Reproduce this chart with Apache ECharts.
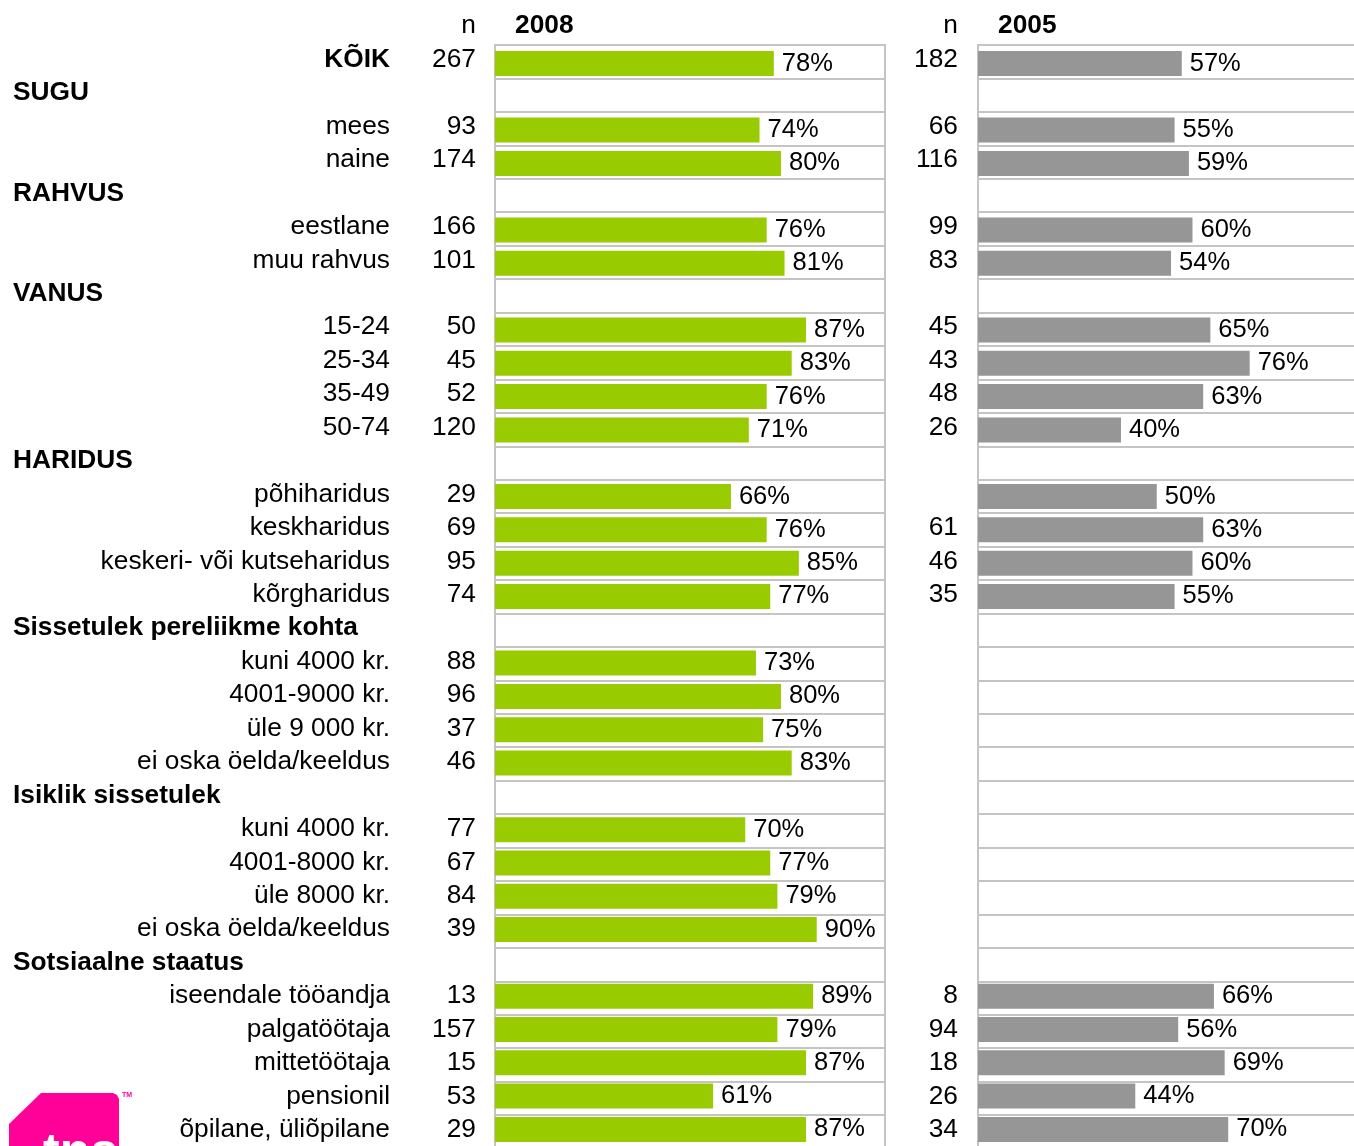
<!DOCTYPE html>
<html>
<head>
<meta charset="utf-8">
<script src="https://cdn.jsdelivr.net/npm/echarts@6/dist/echarts.min.js"></script>
<style>html,body{margin:0;padding:0;background:#fff;}#c{width:1354px;height:1146px;}</style>
</head>
<body>
<div id="c"></div>
<script>
const categories = ['KÕIK','SUGU','mees','naine','RAHVUS','eestlane','muu rahvus','VANUS','15-24','25-34','35-49','50-74','HARIDUS','põhiharidus','keskharidus','keskeri- või kutseharidus','kõrgharidus','Sissetulek pereliikme kohta','kuni 4000 kr.','4001-9000 kr.','üle 9 000 kr.','ei oska öelda/keeldus','Isiklik sissetulek','kuni 4000 kr.','4001-8000 kr.','üle 8000 kr.','ei oska öelda/keeldus','Sotsiaalne staatus','iseendale tööandja','palgatöötaja','mittetöötaja','pensionil','õpilane, üliõpilane'];
const headerRows = [1,4,7,12,17,22,27];
const boldRows = [0];
const n2008 = ['267','','93','174','','166','101','','50','45','52','120','','29','69','95','74','','88','96','37','46','','77','67','84','39','','13','157','15','53','29'];
const pct2008 = [78,null,74,80,null,76,81,null,87,83,76,71,null,66,76,85,77,null,73,80,75,83,null,70,77,79,90,null,89,79,87,61,87];
const n2005 = ['182','','66','116','','99','83','','45','43','48','26','','','61','46','35','','','','','','','','','','','','8','94','18','26','34'];
const pct2005 = [57,null,55,59,null,60,54,null,65,76,63,40,null,50,63,60,55,null,null,null,null,null,null,null,null,null,null,null,66,56,69,44,70];
const yearLabels = ['2008','2005'];

const FONT = '"Liberation Sans", Arial, sans-serif';
const FS = 26.3;
const rowLabels = categories.map((c,i)=> (headerRows.includes(i) || boldRows.includes(i)) ? '' : c);
const boldLabels = categories.map((c,i)=> boldRows.includes(i) ? c : '');
const headLabels = categories.map((c,i)=> headerRows.includes(i) ? c : '');
const NROW = categories.length;
const TOP = 45, ROWH = 33.44, H = ROWH*NROW;
const LABEL_TOP = TOP - 2;
const BAR_ROWH = 33.31, BAR_TOP = 63.5 - BAR_ROWH/2, BAR_H = BAR_ROWH*NROW;
const XMAX = 109.1;
const GRIDLINE = {show:true, interval:0, lineStyle:{color:'#c4c4c4', width:2}};

function yAx(grid, data, margin, extraLabel, extra){
  return Object.assign({
    type:'category', gridIndex:grid, data:data, inverse:true, position:'left', offset:0,
    axisLine:{show:false}, axisTick:{show:false}, splitLine:{show:false},
    axisLabel:Object.assign({fontSize:FS, color:'#000', fontFamily:FONT, padding:[0,0,12,0], interval:0, margin:margin}, extraLabel||{})
  }, extra||{});
}
function lineY(grid){
  return {type:'category', gridIndex:grid, data:categories, inverse:true,
    axisLine:{show:false}, axisTick:{show:false}, axisLabel:{show:false}, splitLine:GRIDLINE};
}
function hiddenY(grid){
  return {type:'category', gridIndex:grid, data:categories, inverse:true, show:false};
}
function hiddenX(grid){
  return {type:'value', gridIndex:grid, min:0, max:XMAX, show:false, splitLine:{show:false}};
}
function titleText(text, left, align, bold){
  return {text:text, left:left, top:13, padding:0, textAlign:align, textStyle:{fontSize:FS, fontWeight:bold?'bold':'normal', color:'#000', fontFamily:FONT}};
}
const pctLabel = {show:true, position:'right', distance:8, formatter:'{c}%', fontSize:25.5, color:'#000', fontFamily:FONT, padding:[2,0,0,0]};

const chart = echarts.init(document.getElementById('c'), null, {renderer:'canvas'});
chart.setOption({
  animation:false,
  backgroundColor:'#fff',
  title:[
    titleText('n', 476, 'right', false),
    titleText(yearLabels[0], 515, 'left', true),
    titleText('n', 958, 'right', false),
    titleText(yearLabels[1], 998, 'left', true)
  ],
  grid:[
    {left:495, top:TOP, width:390, height:H, outerBoundsMode:'none', show:true, borderColor:'#c4c4c4', borderWidth:2, backgroundColor:'transparent'},
    {left:978, top:TOP, width:390, height:H, outerBoundsMode:'none', show:true, borderColor:'#c4c4c4', borderWidth:2, backgroundColor:'transparent'},
    {left:495, top:BAR_TOP, width:390, height:BAR_H, outerBoundsMode:'none', show:false},
    {left:978, top:BAR_TOP, width:390, height:BAR_H, outerBoundsMode:'none', show:false},
    {left:495, top:LABEL_TOP, width:390, height:H, outerBoundsMode:'none', show:false},
    {left:978, top:LABEL_TOP, width:390, height:H, outerBoundsMode:'none', show:false}
  ],
  xAxis:[hiddenX(0), hiddenX(1), hiddenX(2), hiddenX(3), hiddenX(4), hiddenX(5)],
  yAxis:[
    lineY(0),
    lineY(1),
    hiddenY(2),
    hiddenY(3),
    yAx(4, rowLabels, 105),
    yAx(4, boldLabels, 105, {fontWeight:'bold'}),
    yAx(4, headLabels, 482, {fontWeight:'bold', align:'left'}),
    yAx(4, n2008, 19, {padding:[0,0,16,0]}),
    yAx(5, n2005, 20, {padding:[0,0,16,0]})
  ],
  series:[
    {type:'bar', xAxisIndex:2, yAxisIndex:2, data:pct2008, barWidth:25, itemStyle:{color:'#99cc00'}, label:pctLabel},
    {type:'bar', xAxisIndex:3, yAxisIndex:3, data:pct2005, barWidth:25, itemStyle:{color:'#969696'}, label:pctLabel}
  ],
  graphic:[
    {type:'polygon', silent:true, shape:{points:[[9,1124],[41,1093],[113,1093],[117,1095],[119,1099],[119,1150],[9,1150]]}, style:{fill:'#ff0099'}},
    {type:'text', silent:true, left:43, top:1129, style:{text:'tns', fill:'#fff', font:'bold 50px '+FONT}},
    {type:'text', silent:true, left:122, top:1092, style:{text:'TM', fill:'#ff0099', font:'bold 7px '+FONT}}
  ]
});
</script>
</body>
</html>
